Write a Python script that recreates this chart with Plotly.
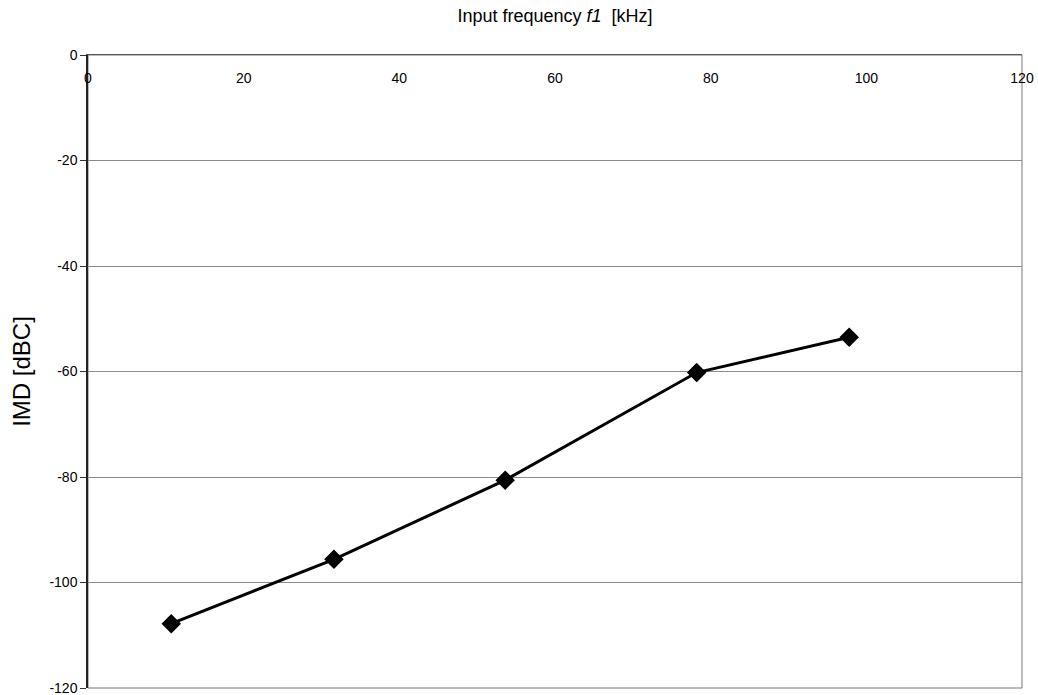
import plotly.graph_objects as go

# Input frequency f1 (kHz) and measured intermodulation distortion (dBC)
freq_khz = [10.7, 31.6, 53.6, 78.2, 97.8]
imd_dbc = [-107.8, -95.6, -80.6, -60.2, -53.5]

x_ticks = [0, 20, 40, 60, 80, 100, 120]
y_ticks = [0, -20, -40, -60, -80, -100, -120]

fig = go.Figure()
fig.add_trace(go.Scatter(
    x=freq_khz, y=imd_dbc, mode="lines+markers",
    line=dict(color="black", width=3),
    marker=dict(symbol="diamond", size=15, color="black"),
    showlegend=False,
))

# light frame around the plotting area
fig.add_shape(type="rect", xref="paper", yref="paper", x0=0, x1=1, y0=0, y1=1,
              line=dict(color="#777", width=1), layer="below")

font_family = "Liberation Sans, Arial, sans-serif"

fig.update_layout(
    width=1038, height=695,
    margin=dict(l=88, r=16, t=55, b=7),
    paper_bgcolor="white", plot_bgcolor="white",
    font=dict(family=font_family, color="black", size=14),
    # x-axis caption sits above the top axis
    title=dict(text="Input frequency <i>f1</i>  [kHz]", font=dict(size=18),
               xref="paper", x=0.5, xanchor="center",
               yref="container", y=0.978, yanchor="middle"),
    xaxis=dict(
        range=[0, 120], side="top", automargin=False,
        tickvals=x_ticks, ticktext=[str(v) for v in x_ticks],
        ticklabelposition="inside", ticklabeloverflow="allow",
        ticks="inside", ticklen=18, tickcolor="rgba(0,0,0,0)",
        showgrid=False, zeroline=False,
        showline=True, linecolor="#555", linewidth=1,
        tickfont=dict(size=14, color="black"),
    ),
    yaxis=dict(
        range=[-120, 0], automargin=False,
        tickvals=y_ticks, ticktext=[str(v) for v in y_ticks],
        ticks="outside", ticklen=6, tickcolor="#333",
        ticklabeloverflow="allow",
        showgrid=True, gridcolor="#8c8c8c", gridwidth=1,
        zeroline=False,
        showline=True, linecolor="#222", linewidth=1.5,
        tickfont=dict(size=14, color="black"),
        title=dict(text="IMD [dBC]", font=dict(size=24), standoff=12),
    ),
)

fig.write_html("out.html")
